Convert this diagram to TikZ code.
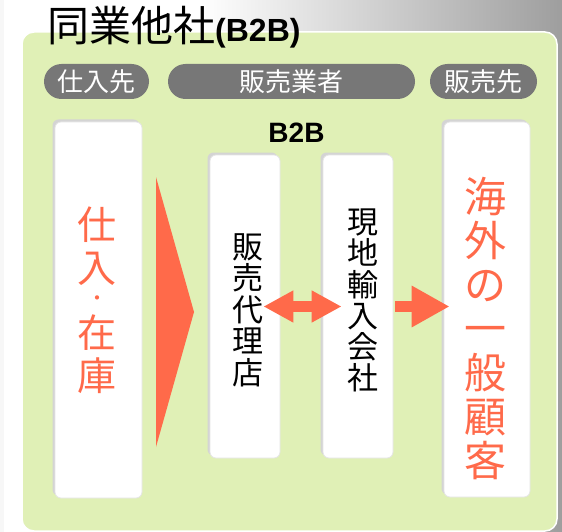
\documentclass[tikz,border=0pt]{standalone}
\usepackage{fontspec}
\setmainfont{Noto Sans CJK JP}
\newfontfamily\latinb{Liberation Sans}
\usetikzlibrary{arrows.meta,shadows}
\definecolor{panelgreen}{HTML}{E0F0B6}
\definecolor{accent}{HTML}{FF6A4A}
\definecolor{pillgray}{HTML}{777777}
\begin{document}
\begin{tikzpicture}[x=1pt,y=-1pt,
  pill/.style={fill=pillgray, rounded corners=17.5pt, minimum height=35pt, inner sep=0pt,
    text=white, font=\fontsize{26}{26}\selectfont},
  card/.style={fill=white, draw=black!10, line width=0.8pt, rounded corners=6pt, inner sep=0pt,
    general shadow={fill=black!17, shadow xshift=-2.5pt, shadow yshift=2.5pt}},
  vtext/.style={align=center, inner sep=0pt},
  flowarrow/.style={draw=accent, line width=11pt},
]
\useasboundingbox (0,0) rectangle (562,532);
% background
\fill[white] (0,0) rectangle (562,532);
\shade[left color=white, right color=black!38] (200,0) rectangle (562,532);
\fill[black!3] (0,0) rectangle (4,532);
% panel
\node[fill=panelgreen, draw=white, line width=1.5pt, rounded corners=12pt,
  minimum width=535pt, minimum height=499pt, inner sep=0pt] (panel) at (289.5,281.5) {};
% title
\node[anchor=base west, inner sep=0pt, font=\fontsize{42}{42}\selectfont] (title) at (47,42)
  {同業他社{\latinb\bfseries\fontsize{32}{32}\selectfont(B2B)}};
% pills
\node[pill, minimum width=105pt] (p1) at (96.5,81.5) {仕入先};
\node[pill, minimum width=247pt] (p2) at (291.5,81.5) {販売業者};
\node[pill, minimum width=107pt] (p3) at (483.5,81.5) {販売先};
% B2B label
\node[inner sep=0pt, font=\latinb\bfseries\fontsize{28}{28}\selectfont] (b2b) at (296.5,133) {B2B};
% cards
\node[card, minimum width=87pt, minimum height=376pt] (stock) at (98.5,310) {};
\node[card, minimum width=70pt, minimum height=303pt] (dealer) at (245,306.5) {};
\node[card, minimum width=70pt, minimum height=303pt] (importer) at (358,306.5) {};
\node[card, minimum width=86pt, minimum height=375pt] (customer) at (487,309.5) {};
% card texts
\node[vtext, text=accent, font=\fontsize{39}{43}\selectfont] (t1a) at (97,246) {仕\\入};
\node[vtext, text=accent, font=\fontsize{20}{20}\selectfont] (t1b) at (97,301) {・};
\node[vtext, text=accent, font=\fontsize{39}{43}\selectfont] (t1c) at (97,354) {在\\庫};
\node[vtext, font=\fontsize{31}{31.5}\selectfont] (t2) at (247.5,310) {販\\売\\代\\理\\店};
\node[vtext, font=\fontsize{31}{31.2}\selectfont] (t3) at (363,300.5) {現\\地\\輸\\入\\会\\社};
\node[vtext, text=accent, font=\fontsize{42}{44}\selectfont] (t4) at (485,328) {海\\外\\の\\一\\般\\顧\\客};
% big triangle
\fill[accent] (156,177) -- (194,312) -- (156,447) -- cycle;
% arrows
\draw[flowarrow, {Triangle[length=30pt,width=30pt]}-{Triangle[length=30pt,width=30pt]}]
  ([xshift=-17pt]dealer.east) -- ([xshift=19pt]importer.west);
\path (customer.west |- importer.east) coordinate (ctip);
\draw[flowarrow, -{Triangle[length=38pt,width=39pt]}]
  ([xshift=2pt]importer.east) -- ([xshift=6pt]ctip);
\end{tikzpicture}
\end{document}
